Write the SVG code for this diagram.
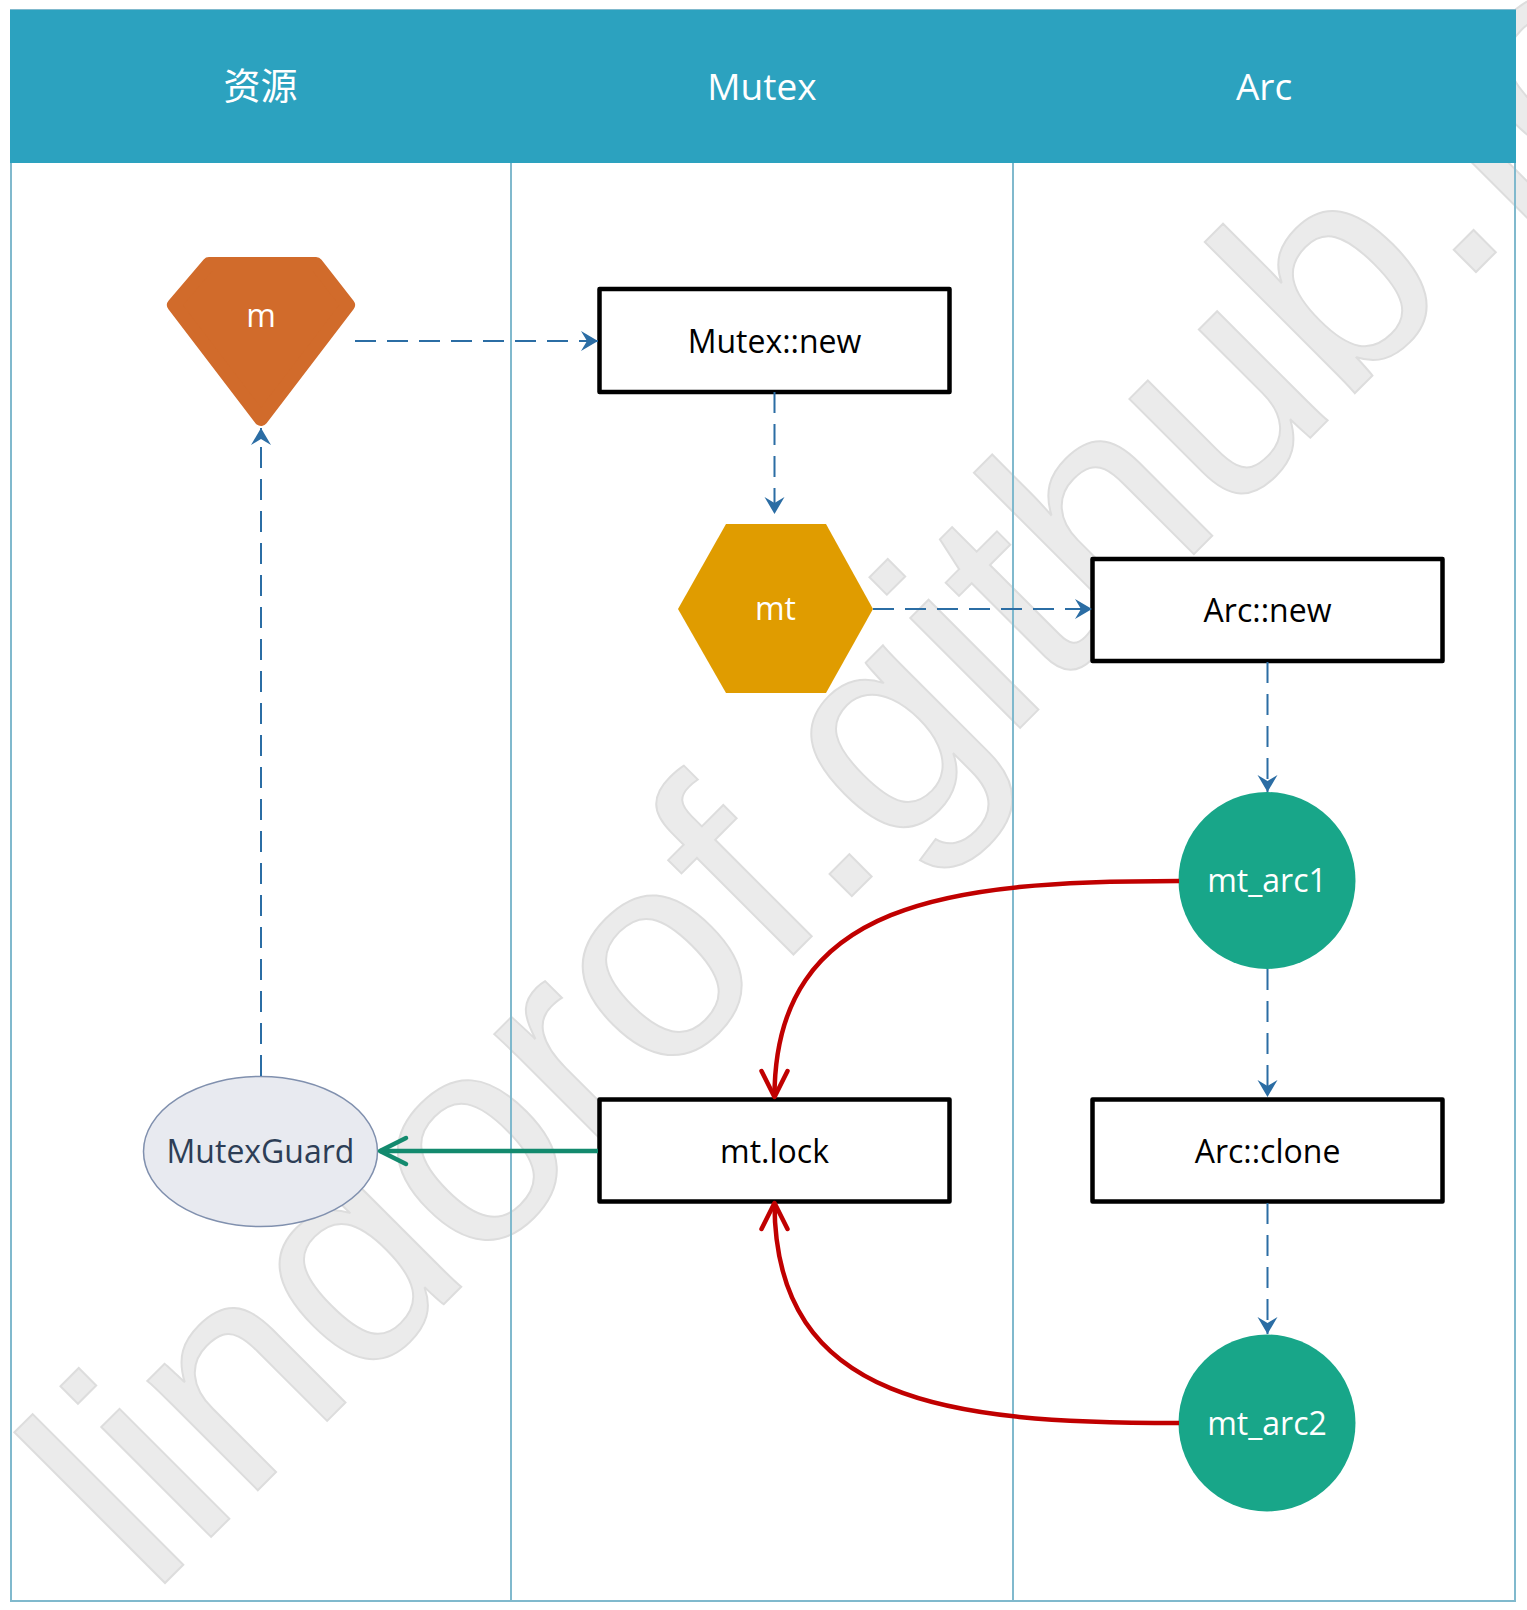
<svg xmlns="http://www.w3.org/2000/svg" width="1527" height="1610" viewBox="0 0 1527 1610">
<defs>
<style>
.frame{fill:none;stroke:#80B9CD;stroke-width:2}
.hdr{font-family:"Open Sans","Noto Sans CJK SC",sans-serif;font-size:37px;fill:#fff;text-anchor:middle}
.lbl{font-family:"Open Sans","Noto Sans",sans-serif;font-size:32px;text-anchor:middle;fill:#000}
.wl{fill:#fff}
.box{fill:#fff;stroke:#000;stroke-width:4.5;stroke-linejoin:round}
.dash{fill:none;stroke:#2B6DA4;stroke-width:2;stroke-dasharray:21 11}
.red{fill:none;stroke:#C00000;stroke-width:4.5}
.green{fill:none;stroke:#138A6E;stroke-width:4.5}
.teal{fill:#18A689}
.wm{font-family:"Liberation Sans",Arial,sans-serif;font-size:294px;fill:#EBEBEB;stroke:#DDDDDD;stroke-width:2}
</style>
<marker id="ab" markerUnits="userSpaceOnUse" markerWidth="40" markerHeight="40" viewBox="-20 -20 40 40" refX="0" refY="0" orient="auto" overflow="visible">
<path d="M0,0 L-17,-10 L-11,0 L-17,10 Z" fill="#2B6DA4"/>
</marker>
<marker id="ar" markerUnits="userSpaceOnUse" markerWidth="80" markerHeight="80" viewBox="-40 -40 80 80" refX="0" refY="0" orient="auto" overflow="visible">
<path d="M-26,-13 L0,0 L-26,13" fill="none" stroke="#C00000" stroke-width="4.5" stroke-linecap="round" stroke-linejoin="round"/>
</marker>
<marker id="ag" markerUnits="userSpaceOnUse" markerWidth="80" markerHeight="80" viewBox="-40 -40 80 80" refX="0" refY="0" orient="auto" overflow="visible">
<path d="M-26,-13 L0,0 L-26,13" fill="none" stroke="#138A6E" stroke-width="4.5" stroke-linecap="round" stroke-linejoin="round"/>
</marker>
</defs>
<rect x="0" y="0" width="1527" height="1610" fill="#fff"/>
<g id="watermark">
<text class="wm" transform="translate(151,1597) rotate(-45)">lindorof.github.io</text>
</g>
<g id="lanes">
<rect class="frame" x="11" y="10" width="1504" height="1591"/>
<line class="frame" x1="511" y1="163" x2="511" y2="1601"/>
<line class="frame" x1="1013" y1="163" x2="1013" y2="1601"/>
<rect x="10" y="10" width="1506" height="153" fill="#2CA2BF"/>
<text class="hdr" x="260.5" y="100">资源</text>
<text class="hdr" x="762" y="100">Mutex</text>
<text class="hdr" x="1264" y="100">Arc</text>
</g>
<g id="node-m">
<polygon points="209,264 316,264 348,305 261,419 174,305" fill="#D16B2B" stroke="#D16B2B" stroke-width="14" stroke-linejoin="round"/>
<text class="lbl wl" x="261" y="327">m</text>
</g>
<g id="node-mutex-new">
<rect class="box" x="599.5" y="289" width="350" height="103"/>
<text class="lbl" x="774.5" y="352.5">Mutex::new</text>
</g>
<g id="node-mt">
<polygon points="726,524 826,524 873,609 826,693 726,693 678,609" fill="#E09C00"/>
<text class="lbl wl" x="775.5" y="620">mt</text>
</g>
<g id="node-arc-new">
<rect class="box" x="1092.5" y="559" width="350" height="102"/>
<text class="lbl" x="1267.5" y="621.5">Arc::new</text>
</g>
<g id="node-mt-arc1">
<circle class="teal" cx="1267" cy="880.5" r="88.5"/>
<text class="lbl wl" x="1267" y="892">mt_arc1</text>
</g>
<g id="node-mt-lock">
<rect class="box" x="599.5" y="1099.5" width="350" height="102"/>
<text class="lbl" x="774.5" y="1162.5">mt.lock</text>
</g>
<g id="node-arc-clone">
<rect class="box" x="1092.5" y="1099.5" width="350" height="102"/>
<text class="lbl" x="1267.5" y="1162.5">Arc::clone</text>
</g>
<g id="node-mt-arc2">
<circle class="teal" cx="1267" cy="1423" r="88.5"/>
<text class="lbl wl" x="1267" y="1434.5">mt_arc2</text>
</g>
<g id="node-mutexguard">
<ellipse cx="260.5" cy="1151.5" rx="117" ry="75" fill="#E8EAF0" stroke="#8090AE" stroke-width="1.5"/>
<text class="lbl" x="260.5" y="1163" style="fill:#2D3E56">MutexGuard</text>
</g>
<g id="connectors">
<line class="dash" x1="355" y1="341" x2="598" y2="341" marker-end="url(#ab)"/>
<line class="dash" x1="774.5" y1="392" x2="774.5" y2="514" marker-end="url(#ab)"/>
<line class="dash" x1="873" y1="609" x2="1092" y2="609" marker-end="url(#ab)"/>
<line class="dash" x1="1267.5" y1="662" x2="1267.5" y2="792" marker-end="url(#ab)"/>
<line class="dash" x1="1267.5" y1="969" x2="1267.5" y2="1097" marker-end="url(#ab)"/>
<line class="dash" x1="1267.5" y1="1203" x2="1267.5" y2="1334" marker-end="url(#ab)"/>
<line class="dash" x1="261" y1="1076" x2="261" y2="428" marker-end="url(#ab)"/>
<line class="green" x1="598" y1="1151" x2="380" y2="1151" marker-end="url(#ag)"/>
<path class="red" d="M1179,881 C950,881 774.5,900 774.5,1097" marker-end="url(#ar)"/>
<path class="red" d="M1179,1423 C950,1423 774.5,1404 774.5,1203" marker-end="url(#ar)"/>
</g>
</svg>
